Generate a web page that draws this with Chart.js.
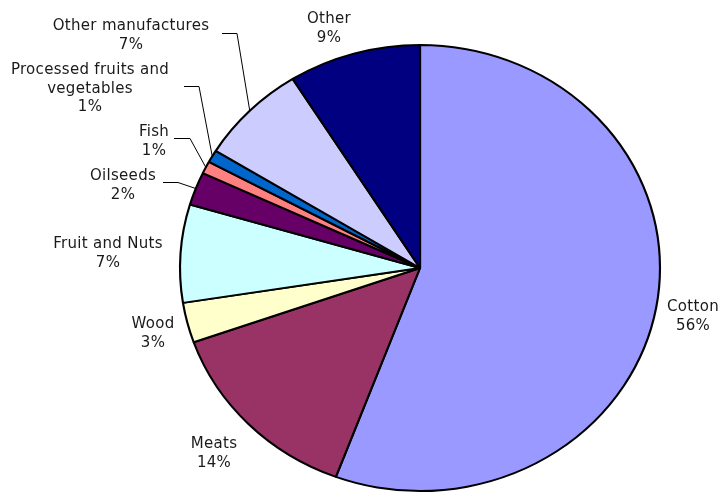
<!DOCTYPE html>
<html>
<head>
<meta charset="utf-8">
<script src="https://cdn.jsdelivr.net/npm/chart.js@4"></script>
<style>
  html, body { margin: 0; padding: 0; background: #fff; }
  canvas { display: block; }
</style>
</head>
<body>
<canvas id="pie" width="720" height="493"></canvas>
<script>
// slice names, clockwise from 12 o'clock
const categories = [
    "Cotton",
    "Meats",
    "Wood",
    "Fruit and Nuts",
    "Oilseeds",
    "Fish",
    ["Processed fruits and", "vegetables"],
    "Other manufactures",
    "Other",
];

// share of exports (%)
const shares = [55.7, 13.9, 2.9, 7.1, 2.4, 0.9, 0.9, 7.3, 8.9];

const sliceColors = [
    "#9999FF",
    "#993366",
    "#FFFFCC",
    "#CCFFFF",
    "#660066",
    "#FF8080",
    "#0066CC",
    "#CCCCFF",
    "#000080",
];

// the excel pie is a bit wider than tall
const stretchX = 240 / 223;

// where each label block sits (centre x, baseline of first line)
const labelSpots = [
    [693, 311],
    [214, 448],
    [153, 328],
    [108, 248],
    [123, 180],
    [154, 136],
    [90, 74],
    [131, 30],
    [329, 23],
];

// leader lines: start point and elbow, the end is the middle of the slice edge
const leaders = {
    4: [[163, 182], [178, 182]],
    5: [[174, 138], [190, 138]],
    6: [[184, 86], [199, 86]],
    7: [[222, 33], [237, 33]],
};

const stretchPlugin = {
    id: "stretch",
    beforeDatasetsDraw(chart) {
        const arc = chart.getDatasetMeta(0).data[0];
        const ctx = chart.ctx;
        ctx.save();
        ctx.translate(arc.x, 0);
        ctx.scale(stretchX, 1);
        ctx.translate(-arc.x, 0);
    },
    afterDatasetsDraw(chart) {
        chart.ctx.restore();
    },
};

const labelPlugin = {
    id: "sliceLabels",
    afterDraw(chart) {
        const ctx = chart.ctx;
        const meta = chart.getDatasetMeta(0);
        const total = shares.reduce((a, b) => a + b, 0);
        ctx.save();
        ctx.font = "15px 'DejaVu Sans'";
        ctx.letterSpacing = "0.3px";
        ctx.fillStyle = "#1a1a1a";
        ctx.textAlign = "center";
        ctx.textBaseline = "alphabetic";
        ctx.strokeStyle = "#000";
        ctx.lineWidth = 1;

        meta.data.forEach((arc, i) => {
            const name = categories[i];
            const lines = Array.isArray(name) ? name.slice() : [name];
            lines.push(Math.round((shares[i] / total) * 100) + "%");
            const [x, y] = labelSpots[i];
            lines.forEach((line, j) => {
                ctx.fillText(line, x, y + j * 18.5);
            });

            if (leaders[i]) {
                const mid = (arc.startAngle + arc.endAngle) / 2;
                const ex = arc.x + Math.cos(mid) * arc.outerRadius * stretchX;
                const ey = arc.y + Math.sin(mid) * arc.outerRadius;
                const [p0, p1] = leaders[i];
                ctx.beginPath();
                ctx.moveTo(p0[0], p0[1] + 0.5);
                ctx.lineTo(p1[0], p1[1] + 0.5);
                ctx.lineTo(ex, ey);
                ctx.stroke();
            }
        });
        ctx.restore();
    },
};

new Chart(document.getElementById("pie").getContext("2d"), {
    type: "pie",
    data: {
        labels: categories,
        datasets: [
            {
                data: shares,
                backgroundColor: sliceColors,
                borderColor: "#000",
                borderWidth: 2,
            },
        ],
    },
    options: {
        responsive: false,
        animation: false,
        layout: {
            padding: { top: 44, bottom: 1, left: 196, right: 76 },
        },
        plugins: {
            legend: { display: false },
            tooltip: { enabled: false },
        },
    },
    plugins: [stretchPlugin, labelPlugin],
});
</script>
</body>
</html>
